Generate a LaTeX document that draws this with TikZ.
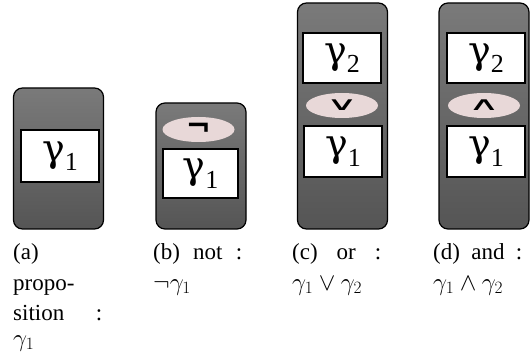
\documentclass[tikz,border=0pt]{standalone}
\usepackage{fontspec}
\setmainfont{Liberation Serif}
\newfontfamily\greekfont{DejaVu Serif}
\newfontfamily\symfont{DejaVu Sans}
\usetikzlibrary{shapes.geometric}
\definecolor{boxtop}{HTML}{7A7A7A}
\definecolor{boxbot}{HTML}{555555}
\definecolor{ellfill}{HTML}{E8D8D8}
\newcommand\gsub[1]{{\greekfont γ}\raisebox{-0.25em}{\fontsize{26}{26}\selectfont #1}}
\tikzset{
  outerbox/.style={draw=black, line width=1.2pt, rounded corners=9pt, top color=boxtop, bottom color=boxbot},
  innerbox/.style={draw=black, line width=1.4pt, fill=white, inner sep=0pt, font=\fontsize{38}{38}\selectfont},
  opell/.style={ellipse, fill=ellfill, inner sep=0pt, minimum width=72pt, minimum height=25pt},
  negfont/.style={font=\symfont\bfseries\fontsize{30}{30}\selectfont},
  chevfont/.style={font=\symfont\fontsize{44}{44}\selectfont},
  capline/.style={anchor=base west, inner sep=0pt, text width=89pt, align=left, font=\fontsize{23}{23}\selectfont}
}
\begin{document}
\begin{tikzpicture}[x=1pt,y=-1pt]
\useasboundingbox (0,0) rectangle (530,358);
% outer boxes
\path[outerbox] (13.5,88) rectangle (103.5,229);
\path[outerbox] (156,103) rectangle (246,229);
\path[outerbox] (297.5,3) rectangle (387.5,229);
\path[outerbox] (439,3) rectangle (529,229);
% (a)
\node[innerbox, minimum width=78pt, minimum height=52pt] (a1) at (60,156) {\gsub{1}};
% (b)
\node[opell, negfont] (bn) at (198.5,129.5) {¬};
\node[innerbox, minimum width=75pt, minimum height=49pt] (b1) at (200.5,173.5) {\gsub{1}};
% (c)
\node[innerbox, minimum width=78pt, minimum height=50pt] (c2) at (342,58) {\gsub{2}};
\node[opell, chevfont] (cor) at (342,105.5) {\scalebox{1}[0.42]{∨}};
\node[innerbox, minimum width=78pt, minimum height=51pt] (c1) at (343,151.5) {\gsub{1}};
% (d)
\node[innerbox, minimum width=78pt, minimum height=50pt] (d2) at (486,58) {\gsub{2}};
\node[opell, chevfont] (dand) at (484,105.5) {\scalebox{1}[0.42]{∧}};
\node[innerbox, minimum width=78pt, minimum height=51pt] (d1) at (486,151.5) {\gsub{1}};
% captions
\node[capline] (ca1) at (13,259) {(a)};
\node[capline] (ca2) at (13,290) {propo-};
\node[capline] (ca3) at (13,320) {sition\hfill:};
\node[capline] (ca4) at (13,346) {$\gamma_1$};
\node[capline] (cb1) at (153,259) {(b)\hfill not\hfill:};
\node[capline] (cb2) at (153,290) {$\neg\gamma_1$};
\node[capline] (cc1) at (292,259) {(c)\hfill or\hfill:};
\node[capline] (cc2) at (292,290) {$\gamma_1\vee\gamma_2$};
\node[capline] (cd1) at (433,259) {(d)\hfill and\hfill:};
\node[capline] (cd2) at (433,290) {$\gamma_1\wedge\gamma_2$};
\end{tikzpicture}
\end{document}
